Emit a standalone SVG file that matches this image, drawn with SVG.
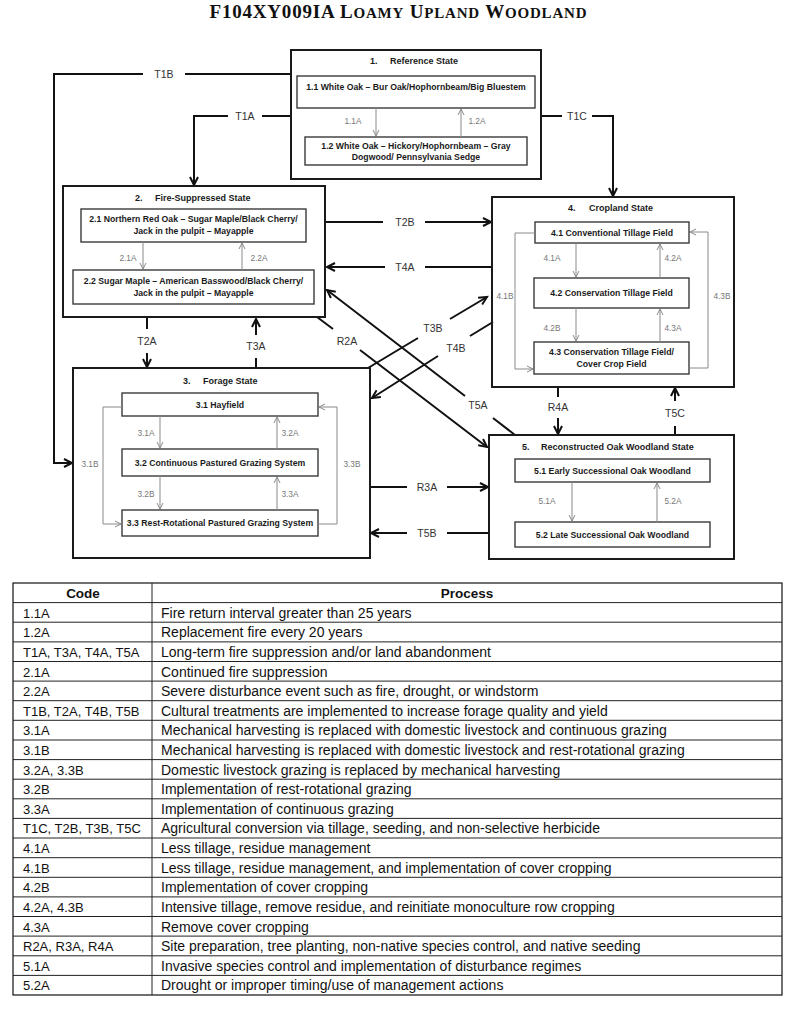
<svg xmlns="http://www.w3.org/2000/svg" width="800" height="1010" viewBox="0 0 800 1010">
<style>
.bg{fill:#fff}
.state{fill:none;stroke:#1a1a1a;stroke-width:2}
.inner{fill:#fff;stroke:#3a3a3a;stroke-width:1.4}
.conn{fill:none;stroke:#111;stroke-width:2}
.iconn{fill:none;stroke:#8a8a8a;stroke-width:1}
.st{font-family:"Liberation Sans",Arial,sans-serif;font-weight:bold;font-size:9px;fill:#1a1a1a}
.bx{font-family:"Liberation Sans",Arial,sans-serif;font-weight:bold;font-size:8.7px;fill:#1a1a1a;text-anchor:middle}
.tl{font-family:"Liberation Sans",Arial,sans-serif;font-size:10.5px;fill:#333;text-anchor:middle;dominant-baseline:central}
.il{font-family:"Liberation Sans",Arial,sans-serif;font-size:8.3px;fill:#777;text-anchor:middle;dominant-baseline:central}
.tc{font-family:"Liberation Sans",Arial,sans-serif;font-size:14px;fill:#111}
.cd{font-size:13px}
.th{font-family:"Liberation Sans",Arial,sans-serif;font-size:13.5px;font-weight:bold;fill:#111;text-anchor:middle}
.grid{stroke:#222;stroke-width:1}
</style>
<defs>
<marker id="ah" markerUnits="userSpaceOnUse" markerWidth="12" markerHeight="12" refX="9" refY="5" orient="auto">
<path d="M1,1 L9,5 L1,9" fill="none" stroke="#111" stroke-width="2"/>
</marker>
<marker id="ahg" markerUnits="userSpaceOnUse" markerWidth="10" markerHeight="10" refX="7" refY="4" orient="auto">
<path d="M1,1 L7,4 L1,7" fill="none" stroke="#8a8a8a" stroke-width="1"/>
</marker>
</defs>
<rect class="bg" x="0" y="0" width="800" height="1010"/>
<text x="398" y="18" text-anchor="middle" font-family="'Liberation Serif','Times New Roman',serif" font-weight="bold" font-size="19" fill="#111" textLength="377" lengthAdjust="spacing">F104XY009IA L<tspan font-size="15">OAMY</tspan> U<tspan font-size="15">PLAND</tspan> W<tspan font-size="15">OODLAND</tspan></text>

<g id="connectors">
<path class="conn" d="M291,74 H185 M143,74 H54 V463 H72" marker-end="url(#ah)"/>
<path class="conn" d="M291,116 H262 M228,116 H194 V185" marker-end="url(#ah)"/>
<path class="conn" d="M541,116 H562 M592,116 H613 V196" marker-end="url(#ah)"/>
<path class="conn" d="M325,222 H383 M425,222 H491" marker-end="url(#ah)"/>
<path class="conn" d="M492,267 H425 M385,267 H327" marker-end="url(#ah)"/>
<path class="conn" d="M147,318 V329 M147,353 V367" marker-end="url(#ah)"/>
<path class="conn" d="M256,368 V358 M256,335 V319" marker-end="url(#ah)"/>
<path class="conn" d="M317,317 L333,329 M360,350 L487,447" marker-end="url(#ah)"/>
<path class="conn" d="M515,435 L493,418 M465,396 L327,290" marker-end="url(#ah)"/>
<path class="conn" d="M368,368 L418,338 M450,319 L487,297" marker-end="url(#ah)"/>
<path class="conn" d="M493,322 L470,336 M438,356 L372,398" marker-end="url(#ah)"/>
<path class="conn" d="M370,487 H407 M447,487 H488" marker-end="url(#ah)"/>
<path class="conn" d="M489,533 H447 M407,533 H371" marker-end="url(#ah)"/>
<path class="conn" d="M558,388 V397 M558,418 V434" marker-end="url(#ah)"/>
<path class="conn" d="M675,435 V426 M675,401 V388" marker-end="url(#ah)"/>
<text class="tl" x="164" y="74">T1B</text>
<text class="tl" x="245" y="116">T1A</text>
<text class="tl" x="577" y="116">T1C</text>
<text class="tl" x="405" y="222">T2B</text>
<text class="tl" x="405" y="267">T4A</text>
<text class="tl" x="147" y="341">T2A</text>
<text class="tl" x="256" y="346">T3A</text>
<text class="tl" x="347" y="341">R2A</text>
<text class="tl" x="478" y="405">T5A</text>
<text class="tl" x="433" y="328">T3B</text>
<text class="tl" x="456" y="348">T4B</text>
<text class="tl" x="427" y="487">R3A</text>
<text class="tl" x="427" y="533">T5B</text>
<text class="tl" x="558" y="407">R4A</text>
<text class="tl" x="675" y="413">T5C</text>
</g>

<g id="state1">
<rect class="state" x="291" y="50" width="250" height="129"/>
<text class="st" y="64"><tspan x="370">1.</tspan><tspan x="390">Reference State</tspan></text>
<rect class="inner" x="297" y="76" width="238" height="32"/>
<text class="bx" x="416" y="90">1.1 White Oak – Bur Oak/Hophornbeam/Big Bluestem</text>
<rect class="inner" x="305" y="137" width="222" height="28"/>
<text class="bx" x="416" y="149">1.2 White Oak – Hickory/Hophornbeam – Gray</text>
<text class="bx" x="416" y="160">Dogwood/ Pennsylvania Sedge</text>
<path class="iconn" d="M376,108 V136" marker-end="url(#ahg)"/>
<path class="iconn" d="M461,137 V109" marker-end="url(#ahg)"/>
<text class="il" x="353" y="121">1.1A</text>
<text class="il" x="477" y="121">1.2A</text>
</g>

<g id="state2">
<rect class="state" x="63" y="186" width="262" height="131"/>
<text class="st" y="201"><tspan x="135">2.</tspan><tspan x="155">Fire-Suppressed State</tspan></text>
<rect class="inner" x="81" y="209" width="225" height="33"/>
<text class="bx" x="193.5" y="222">2.1 Northern Red Oak – Sugar Maple/Black Cherry/</text>
<text class="bx" x="193.5" y="234">Jack in the pulpit – Mayapple</text>
<rect class="inner" x="73" y="270" width="241" height="34"/>
<text class="bx" x="193.5" y="284">2.2 Sugar Maple – American Basswood/Black Cherry/</text>
<text class="bx" x="193.5" y="296">Jack in the pulpit – Mayapple</text>
<path class="iconn" d="M143,242 V269" marker-end="url(#ahg)"/>
<path class="iconn" d="M242,270 V243" marker-end="url(#ahg)"/>
<text class="il" x="128" y="258">2.1A</text>
<text class="il" x="259" y="258">2.2A</text>
</g>

<g id="state3">
<rect class="state" x="73" y="368" width="297" height="190"/>
<text class="st" y="384"><tspan x="183">3.</tspan><tspan x="203">Forage State</tspan></text>
<rect class="inner" x="122" y="393" width="196" height="23"/>
<text class="bx" x="220" y="407.5">3.1 Hayfield</text>
<rect class="inner" x="122" y="449" width="196" height="27"/>
<text class="bx" x="220" y="465.5">3.2 Continuous Pastured Grazing System</text>
<rect class="inner" x="122" y="510" width="196" height="26"/>
<text class="bx" x="220" y="526">3.3 Rest-Rotational Pastured Grazing System</text>
<path class="iconn" d="M160,416 V448" marker-end="url(#ahg)"/>
<path class="iconn" d="M277,449 V417" marker-end="url(#ahg)"/>
<path class="iconn" d="M160,476 V509" marker-end="url(#ahg)"/>
<path class="iconn" d="M277,510 V477" marker-end="url(#ahg)"/>
<path class="iconn" d="M122,407 H103 V524 H121" marker-end="url(#ahg)"/>
<path class="iconn" d="M318,524 H337 V407 H319" marker-end="url(#ahg)"/>
<text class="il" x="146" y="433">3.1A</text>
<text class="il" x="290" y="433">3.2A</text>
<text class="il" x="146" y="494">3.2B</text>
<text class="il" x="290" y="494">3.3A</text>
<text class="il" x="90" y="464">3.1B</text>
<text class="il" x="352" y="464">3.3B</text>
</g>

<g id="state4">
<rect class="state" x="492" y="197" width="242" height="190"/>
<text class="st" y="211"><tspan x="568">4.</tspan><tspan x="589">Cropland State</tspan></text>
<rect class="inner" x="535" y="222" width="154" height="21"/>
<text class="bx" x="612" y="235.5">4.1 Conventional Tillage Field</text>
<rect class="inner" x="534" y="278" width="155" height="30"/>
<text class="bx" x="611.5" y="296">4.2 Conservation Tillage Field</text>
<rect class="inner" x="534" y="342" width="155" height="32"/>
<text class="bx" x="611.5" y="355">4.3 Conservation Tillage Field/</text>
<text class="bx" x="611.5" y="367">Cover Crop Field</text>
<path class="iconn" d="M576,243 V277" marker-end="url(#ahg)"/>
<path class="iconn" d="M660,278 V244" marker-end="url(#ahg)"/>
<path class="iconn" d="M576,308 V341" marker-end="url(#ahg)"/>
<path class="iconn" d="M660,342 V309" marker-end="url(#ahg)"/>
<path class="iconn" d="M535,233 H515 V369 H533" marker-end="url(#ahg)"/>
<path class="iconn" d="M689,368 H708 V232 H690" marker-end="url(#ahg)"/>
<text class="il" x="552" y="258">4.1A</text>
<text class="il" x="673" y="258">4.2A</text>
<text class="il" x="552" y="328">4.2B</text>
<text class="il" x="673" y="328">4.3A</text>
<text class="il" x="505" y="296">4.1B</text>
<text class="il" x="722" y="296">4.3B</text>
</g>

<g id="state5">
<rect class="state" x="489" y="435" width="245" height="124"/>
<text class="st" y="450"><tspan x="522">5.</tspan><tspan x="541">Reconstructed Oak Woodland State</tspan></text>
<rect class="inner" x="515" y="459" width="195" height="23"/>
<text class="bx" x="612.5" y="473.5">5.1 Early Successional Oak Woodland</text>
<rect class="inner" x="515" y="522" width="195" height="25"/>
<text class="bx" x="612.5" y="537.5">5.2 Late Successional Oak Woodland</text>
<path class="iconn" d="M572,482 V521" marker-end="url(#ahg)"/>
<path class="iconn" d="M657,522 V483" marker-end="url(#ahg)"/>
<text class="il" x="547" y="501">5.1A</text>
<text class="il" x="673" y="501">5.2A</text>
</g>

<g id="table">
<rect x="13" y="583" width="769" height="412" fill="none" stroke="#111" stroke-width="1.2"/>
<line class="grid" x1="152" y1="583" x2="152" y2="995"/>
<g class="grid">
<line x1="13" y1="602.6" x2="782" y2="602.6"/>
<line x1="13" y1="622.2" x2="782" y2="622.2"/>
<line x1="13" y1="641.9" x2="782" y2="641.9"/>
<line x1="13" y1="661.5" x2="782" y2="661.5"/>
<line x1="13" y1="681.1" x2="782" y2="681.1"/>
<line x1="13" y1="700.7" x2="782" y2="700.7"/>
<line x1="13" y1="720.3" x2="782" y2="720.3"/>
<line x1="13" y1="740.0" x2="782" y2="740.0"/>
<line x1="13" y1="759.6" x2="782" y2="759.6"/>
<line x1="13" y1="779.2" x2="782" y2="779.2"/>
<line x1="13" y1="798.8" x2="782" y2="798.8"/>
<line x1="13" y1="818.4" x2="782" y2="818.4"/>
<line x1="13" y1="838.0" x2="782" y2="838.0"/>
<line x1="13" y1="857.7" x2="782" y2="857.7"/>
<line x1="13" y1="877.3" x2="782" y2="877.3"/>
<line x1="13" y1="896.9" x2="782" y2="896.9"/>
<line x1="13" y1="916.5" x2="782" y2="916.5"/>
<line x1="13" y1="936.1" x2="782" y2="936.1"/>
<line x1="13" y1="955.8" x2="782" y2="955.8"/>
<line x1="13" y1="975.4" x2="782" y2="975.4"/>
</g>
<text class="th" x="83" y="598">Code</text>
<text class="th" x="467" y="598">Process</text>
<g class="tc">
<text class="cd" x="23" y="617.6">1.1A</text><text x="161" y="617.6">Fire return interval greater than 25 years</text>
<text class="cd" x="23" y="637.2">1.2A</text><text x="161" y="637.2">Replacement fire every 20 years</text>
<text class="cd" x="23" y="656.9">T1A, T3A, T4A, T5A</text><text x="161" y="656.9">Long-term fire suppression and/or land abandonment</text>
<text class="cd" x="23" y="676.5">2.1A</text><text x="161" y="676.5">Continued fire suppression</text>
<text class="cd" x="23" y="696.1">2.2A</text><text x="161" y="696.1">Severe disturbance event such as fire, drought, or windstorm</text>
<text class="cd" x="23" y="715.7">T1B, T2A, T4B, T5B</text><text x="161" y="715.7">Cultural treatments are implemented to increase forage quality and yield</text>
<text class="cd" x="23" y="735.3">3.1A</text><text x="161" y="735.3">Mechanical harvesting is replaced with domestic livestock and continuous grazing</text>
<text class="cd" x="23" y="755.0">3.1B</text><text x="161" y="755.0">Mechanical harvesting is replaced with domestic livestock and rest-rotational grazing</text>
<text class="cd" x="23" y="774.6">3.2A, 3.3B</text><text x="161" y="774.6">Domestic livestock grazing is replaced by mechanical harvesting</text>
<text class="cd" x="23" y="794.2">3.2B</text><text x="161" y="794.2">Implementation of rest-rotational grazing</text>
<text class="cd" x="23" y="813.8">3.3A</text><text x="161" y="813.8">Implementation of continuous grazing</text>
<text class="cd" x="23" y="833.4">T1C, T2B, T3B, T5C</text><text x="161" y="833.4">Agricultural conversion via tillage, seeding, and non-selective herbicide</text>
<text class="cd" x="23" y="853.0">4.1A</text><text x="161" y="853.0">Less tillage, residue management</text>
<text class="cd" x="23" y="872.7">4.1B</text><text x="161" y="872.7">Less tillage, residue management, and implementation of cover cropping</text>
<text class="cd" x="23" y="892.3">4.2B</text><text x="161" y="892.3">Implementation of cover cropping</text>
<text class="cd" x="23" y="911.9">4.2A, 4.3B</text><text x="161" y="911.9">Intensive tillage, remove residue, and reinitiate monoculture row cropping</text>
<text class="cd" x="23" y="931.5">4.3A</text><text x="161" y="931.5">Remove cover cropping</text>
<text class="cd" x="23" y="951.1">R2A, R3A, R4A</text><text x="161" y="951.1">Site preparation, tree planting, non-native species control, and native seeding</text>
<text class="cd" x="23" y="970.8">5.1A</text><text x="161" y="970.8">Invasive species control and implementation of disturbance regimes</text>
<text class="cd" x="23" y="990.4">5.2A</text><text x="161" y="990.4">Drought or improper timing/use of management actions</text>
</g>
</g>
</svg>
